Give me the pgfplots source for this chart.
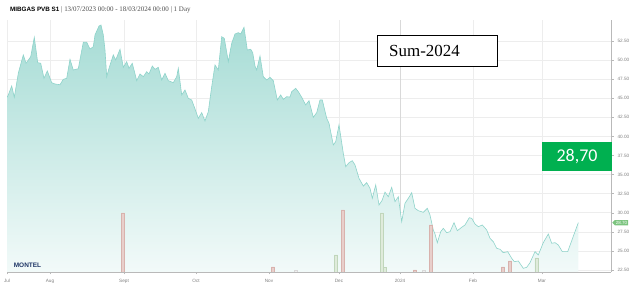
\documentclass[border=0pt]{standalone}
\usepackage{fontspec}
\setmainfont{Liberation Sans}
\newfontfamily\serifname{Liberation Serif}
\newfontfamily\calib{Carlito}
\usepackage{pgfplots}
\usepackage{pgfplotstable}
\pgfplotsset{compat=1.18}
\usetikzlibrary{shapes.symbols}
\definecolor{areatop}{HTML}{A6DCD5}
\definecolor{areabot}{HTML}{F2FAF9}
\definecolor{linec}{HTML}{8ED3CA}
\definecolor{gridc}{HTML}{EDEDED}
\definecolor{redbar}{HTML}{E8CFCB}
\definecolor{redbard}{HTML}{D8B2AD}
\definecolor{greenbar}{HTML}{DFEBDB}
\definecolor{greenbard}{HTML}{C0D6BB}
\definecolor{xlgreen}{HTML}{00B050}
\definecolor{tagg}{HTML}{7CC47F}
\definecolor{montel}{HTML}{1E3565}

\pgfplotstableread{
x y
7 45.12
8.3 45.43
11.7 46.60
14.3 45.12
18.3 48.27
23.3 50.67
26 49.58
30.7 50.44
34.3 52.98
37.7 49.66
40.7 49.58
44 47.61
47.3 48.57
51.7 47.04
55 46.87
60 46.77
63.3 47.48
66.7 47.61
70 50.10
73.3 48.70
78.3 48.87
83.3 52.33
86.7 52.33
90 51.45
93.3 51.75
95 53.29
99 54.46
101 54.60
103.3 53.29
105 51.32
106.7 47.82
109 48.92
113.3 50.67
115.7 50.01
120 51.41
123.3 49.05
126.7 49.79
129 48.92
132.3 49.58
136.7 47.30
140 48.18
143.3 47.82
146.7 48.48
149 48.18
152.3 49.22
155 48.79
158.3 49.05
161.7 47.39
165 48.27
168.3 47.30
173.3 47.04
176.7 47.82
178.3 48.92
181.7 45.43
185 46.08
188.3 44.99
191.7 44.77
195 43.60
198.3 42.37
201.7 43.11
205 42.02
208.3 43.24
211.7 46.51
215 49.36
218.3 48.70
221.7 53.06
224.3 52.85
228.3 49.79
231.7 52.20
235 53.42
238.3 53.59
240.7 53.42
244 54.29
247.3 51.32
250.7 51.41
252.7 50.97
255 49.22
256.7 48.70
260 50.53
263.3 47.82
266.7 47.39
270 47.74
273.3 47.30
277.3 44.77
280.7 45.43
283.3 44.86
286.7 45.20
290 45.16
291.7 45.86
295.7 46.30
298.3 45.86
301.7 45.12
305.7 44.12
309 44.68
313.3 42.50
316.7 43.11
320 44.77
322.3 44.77
326.7 42.37
329 41.72
333.3 38.88
335.7 39.31
339 41.50
343.3 37.79
345.7 36.03
349 36.56
352.3 36.82
355 36.26
359 34.51
363.3 33.50
366.7 33.94
370 33.20
372.3 31.89
375.7 33.64
379 31.02
382 31.60
385 32.70
388.3 32.10
391.7 33.33
395 31.45
398.3 32.10
401.7 28.83
405 31.24
408.3 31.89
411.7 32.63
415 30.58
418.3 30.27
423.3 30.06
427.3 30.58
430 29.70
433.3 27.74
435 27.22
437.3 26.08
440.7 27.52
443.3 27.96
446.7 27.39
450 27.52
454 28.70
457.3 27.65
461.7 28.09
465 28.40
469.3 29.35
471.7 29.27
475 28.53
478.3 28.17
482.3 28.40
486.7 27.74
490 26.65
493.3 26.21
496.7 25.34
500 25.21
503.3 24.77
507.7 24.90
511.7 24.03
514.3 23.59
518.3 23.68
523.3 22.72
526.7 22.85
530 23.46
535 24.90
538.3 24.47
543.3 26.08
548.3 27.22
551.7 26.00
555 26.08
558.3 25.78
562.3 24.90
567.7 24.90
571.7 26.34
578.3 28.70
}\pricedata

\begin{document}
\begin{tikzpicture}
\useasboundingbox (0,0) rectangle (632bp,296bp);
\begin{axis}[
  at={(7bp,24bp)}, anchor=south west,
  scale only axis, width=604bp, height=252bp,
  xmin=7, xmax=611, ymin=22.238, ymax=55.25,
  axis x line*=bottom, axis y line*=right,
  axis line style={draw=gray!55, line width=0.4bp},
  xtick={7,50,124,196,269,339,473,542},
  xticklabels={Jul,Aug,Sept,Oct,Nov,Dec,Feb,Mar},
  extra x ticks={400}, extra x tick labels={2024},
  extra x tick style={grid style={draw=gray!30, line width=0.7bp}},
  ytick={22.5,25,27.5,30,32.5,35,37.5,40,42.5,45,47.5,50,52.5},
  yticklabel style={/pgf/number format/fixed, /pgf/number format/fixed zerofill, /pgf/number format/precision=2, /pgf/number format/assume math mode=true, xshift=0.5bp},
  tick label style={font=\fontsize{4.7}{5}\selectfont, text=gray},
  xticklabel style={yshift=-1.5bp},
  tick align=outside, major tick length=2.5bp,
  tick style={draw=gray!55, line width=0.4bp},
  grid=major, grid style={draw=gridc, line width=0.5bp},
  clip=true,
]
\addplot[draw=none, top color=areatop, bottom color=areabot] table[x=x,y=y] {\pricedata} -- (axis cs:578.3,22.238) -- (axis cs:7,22.238) -- cycle;
\addplot[draw=linec, line width=0.6bp, mark=none] table[x=x,y=y] {\pricedata};
\end{axis}
\begin{axis}[
  at={(7bp,24bp)}, anchor=south west,
  scale only axis, width=604bp, height=252bp,
  xmin=7, xmax=611, ymin=0, ymax=252,
  hide axis, ybar, bar width=3.2bp,
]
\addplot[bar shift=0pt, fill=redbar, draw=redbard, line width=0.3bp] coordinates {(123,59) (273,5) (342.7,62) (415,2) (430.7,47) (503,5) (510,11)};
\addplot[bar shift=0pt, fill=greenbar, draw=greenbard, line width=0.3bp] coordinates {(336,17) (381.7,59) (385,4.5) (536.5,14)};
\addplot[bar shift=0pt, fill=gray!12, draw=gray!30, line width=0.3bp] coordinates {(296,1.5) (424,1.5)};
\end{axis}
\node[anchor=west, inner sep=0] at (10bp,286bp) {\fontsize{6.3}{7}\selectfont\bfseries MIBGAS PVB S1\ {\mdseries\serifname\color{black!70}\fontsize{7}{7}\selectfont| 13/07/2023 00:00 - 18/03/2024 00:00 | 1 Day}};
\draw[black, line width=0.8bp, fill=white] (377bp,230bp) rectangle (497bp,261bp);
\node[anchor=west, inner sep=0, font=\serifname\fontsize{17}{17}\selectfont] at (389bp,245.5bp) {Sum-2024};
\node[fill=xlgreen, text=white, minimum width=70bp, minimum height=29bp, inner sep=0, font=\calib\fontsize{18}{18}\selectfont] at (577bp,139.5bp) {28,70};
\node[signal, signal to=west, fill=tagg, text=white, font=\fontsize{4.5}{4.5}\selectfont, inner sep=1bp, anchor=west] at (612bp,73.3bp) {28.70};
\node[font=\fontsize{6.5}{6.5}\selectfont\bfseries, text=montel, inner sep=0] at (27.5bp,31bp) {MONTEL};
\end{tikzpicture}
\end{document}
